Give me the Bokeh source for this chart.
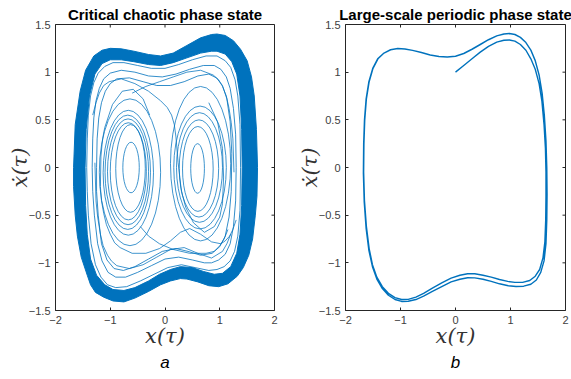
import math
from bokeh.plotting import figure
from bokeh.layouts import row
from bokeh.models import LinearAxis, FixedTicker, Range1d, Title
from bokeh.embed import file_html
from bokeh.resources import INLINE

# ---------------- data ----------------
titles = ["Critical chaotic phase state", "Large-scale periodic phase state"]
captions = ["a", "b"]
x_label = "x(τ)"
y_label = "ẋ(τ)"
x_ticks = [-2, -1, 0, 1, 2]
y_ticks = [-1.5, -1, -0.5, 0, 0.5, 1, 1.5]

# dense band of the chaotic attractor: outer and inner edge
band_outer_x = [-1.67, -1.64, -1.55, -1.45, -1.30, -1.15, -1.0, -0.8, -0.57, -0.3, -0.08, 0.15, 0.4, 0.65, 0.85, 0.95, 1.1, 1.25, 1.38, 1.50, 1.58, 1.63, 1.67, 1.69, 1.68, 1.65, 1.60, 1.53, 1.43, 1.32, 1.15, 0.98, 0.8, 0.6, 0.4, 0.28, 0.1, -0.08, -0.3, -0.55, -0.75, -0.95, -1.12, -1.27, -1.36, -1.42, -1.53, -1.60, -1.64, -1.67]
band_outer_y = [0.0, 0.45, 0.80, 1.02, 1.17, 1.23, 1.25, 1.245, 1.22, 1.185, 1.17, 1.2, 1.28, 1.36, 1.395, 1.40, 1.385, 1.33, 1.24, 1.12, 0.95, 0.75, 0.4, 0.0, -0.3, -0.5, -0.75, -0.92, -1.05, -1.14, -1.22, -1.25, -1.24, -1.20, -1.17, -1.165, -1.19, -1.23, -1.30, -1.37, -1.41, -1.40, -1.36, -1.31, -1.23, -1.13, -0.94, -0.72, -0.5, -0.2]
band_inner_x = [-1.46, -1.44, -1.38, -1.28, -1.15, -1.0, -0.8, -0.57, -0.3, -0.08, 0.15, 0.4, 0.65, 0.85, 0.95, 1.1, 1.22, 1.31, 1.37, 1.40, 1.41, 1.40, 1.37, 1.31, 1.2, 1.05, 0.9, 0.7, 0.5, 0.28, 0.1, -0.1, -0.3, -0.55, -0.75, -0.95, -1.1, -1.25, -1.36, -1.42, -1.45]
band_inner_y = [0.0, 0.4, 0.75, 0.98, 1.09, 1.13, 1.13, 1.11, 1.08, 1.07, 1.10, 1.15, 1.20, 1.22, 1.22, 1.19, 1.11, 0.98, 0.75, 0.4, 0.0, -0.4, -0.7, -0.9, -1.04, -1.11, -1.12, -1.09, -1.05, -1.04, -1.07, -1.12, -1.19, -1.26, -1.29, -1.28, -1.23, -1.13, -0.96, -0.7, -0.4]

# large thin loops just inside the band
big_loops_x = [
    [-1.43, -1.42, -1.40, -1.36, -1.30, -1.22, -1.1, -0.95, -0.75, -0.5, -0.25, 0.0, 0.25, 0.5, 0.75, 0.95, 1.1, 1.2, 1.28, 1.33, 1.37, 1.38, 1.37, 1.33, 1.27, 1.19, 1.08, 0.95, 0.8, 0.55, 0.3, 0.05, -0.2, -0.45, -0.7, -0.9, -1.05, -1.17, -1.27, -1.35, -1.40, -1.42],
    [-1.33, -1.32, -1.30, -1.26, -1.20, -1.12, -1.0, -0.8, -0.55, -0.3, -0.05, 0.2, 0.45, 0.7, 0.9, 1.02, 1.12, 1.19, 1.25, 1.29, 1.30, 1.29, 1.25, 1.19, 1.10, 0.98, 0.85, 0.72, 0.5, 0.25, 0.0, -0.25, -0.5, -0.72, -0.9, -1.04, -1.15, -1.23, -1.29, -1.32],
    [-1.25, -1.24, -1.21, -1.16, -1.09, -1.0, -0.88, -0.65, -0.4, -0.15, 0.1, 0.35, 0.6, 0.8, 0.94, 1.05, 1.13, 1.19, 1.22, 1.21, 1.17, 1.10, 1.0, 0.86, 0.65, 0.42, 0.2, -0.05, -0.3, -0.55, -0.76, -0.93, -1.06, -1.16, -1.22, -1.25],
]
big_loops_y = [
    [0.0, 0.3, 0.55, 0.75, 0.89, 0.99, 1.06, 1.1, 1.1, 1.07, 1.04, 1.04, 1.08, 1.13, 1.17, 1.17, 1.12, 1.05, 0.92, 0.75, 0.45, 0.0, -0.45, -0.72, -0.88, -0.98, -1.04, -1.07, -1.08, -1.05, -1.02, -1.05, -1.12, -1.19, -1.25, -1.26, -1.23, -1.15, -1.02, -0.8, -0.5, -0.25],
    [0.0, 0.3, 0.52, 0.7, 0.83, 0.93, 0.99, 1.02, 1.0, 0.96, 0.95, 0.98, 1.03, 1.07, 1.07, 1.03, 0.95, 0.83, 0.62, 0.35, 0.0, -0.35, -0.62, -0.8, -0.91, -0.97, -1.0, -1.0, -0.97, -0.94, -0.96, -1.03, -1.1, -1.15, -1.15, -1.1, -0.98, -0.8, -0.5, -0.25],
    [0.0, 0.3, 0.52, 0.68, 0.8, 0.88, 0.93, 0.94, 0.9, 0.86, 0.86, 0.9, 0.96, 0.98, 0.94, 0.86, 0.72, 0.48, 0.15, -0.25, -0.52, -0.72, -0.83, -0.9, -0.92, -0.88, -0.85, -0.88, -0.96, -1.04, -1.08, -1.06, -0.97, -0.8, -0.5, -0.25],
]

# loops around the two wells (centre, full width, full height)
well_x = [-0.62, -0.63, -0.67, -0.675, -0.68, -0.67, -0.64, 0.595, 0.60, 0.62, 0.63, 0.64, 0.65]
well_y = [0.0, -0.01, -0.04, -0.045, -0.05, -0.055, -0.05, -0.01, -0.015, -0.01, 0.0, 0.0, 0.04]
well_w = [0.30, 0.54, 0.66, 0.75, 0.83, 0.92, 1.12, 0.25, 0.56, 0.72, 0.84, 0.96, 1.10]
well_h = [0.53, 0.92, 1.02, 1.11, 1.20, 1.31, 1.54, 0.52, 0.89, 1.02, 1.15, 1.29, 1.62]

# open crossing paths between the wells
cross_x = [
    [-1.32, -1.26, -1.2, -1.12, -1.02, -0.8, -0.55, -0.3, -0.08, 0.04, 0.12, 0.17, 0.2, 0.24, 0.3, 0.38, 0.52, 0.72, 0.9, 1.0, 1.05, 1.07, 1.05, 0.96, 0.8],
    [1.3, 1.24, 1.18, 1.1, 1.02, 0.85, 0.65, 0.45, 0.28, 0.1, -0.1, -0.35, -0.6, -0.82, -0.92, -1.0, -1.07, -1.12, -1.16, -1.18, -1.17, -1.14, -1.1, -0.96, -0.78, -0.58, -0.4, -0.28],
    [1.2, 1.13, 1.05, 0.85, 0.6, 0.35, 0.1, -0.15, -0.4, -0.65, -0.88, -0.98, -1.05, -1.13, -1.18, -1.23, -1.26, -1.28],
    [-0.6, -0.35, -0.1, 0.15, 0.4, 0.65, 0.88, 0.98, 1.05, 1.12, 1.17, 1.21, 1.24, 1.26],
    [-0.45, -0.3, -0.1, 0.15, 0.45, 0.75, 0.9, 1.0, 1.08, 1.15],
]
cross_y = [
    [0.55, 0.68, 0.78, 0.86, 0.9, 0.93, 0.88, 0.8, 0.7, 0.63, 0.55, 0.45, 0.32, 0.05, -0.25, -0.42, -0.58, -0.68, -0.62, -0.52, -0.38, -0.1, 0.2, 0.48, 0.68],
    [-0.55, -0.65, -0.72, -0.77, -0.8, -0.78, -0.7, -0.64, -0.68, -0.77, -0.85, -0.9, -0.9, -0.84, -0.79, -0.7, -0.6, -0.48, -0.35, -0.2, 0.12, 0.3, 0.42, 0.66, 0.8, 0.82, 0.72, 0.55],
    [-0.7, -0.8, -0.88, -0.95, -0.9, -0.84, -0.86, -0.94, -1.02, -1.06, -1.03, -0.98, -0.92, -0.82, -0.7, -0.52, -0.35, 0.05],
    [0.78, 0.85, 0.9, 0.95, 1.0, 1.02, 0.97, 0.92, 0.85, 0.75, 0.62, 0.47, 0.3, -0.05],
    [-0.62, -0.72, -0.8, -0.86, -0.9, -0.9, -0.88, -0.82, -0.75, -0.65],
]

# periodic orbit (right panel)
orbit_x = [0.0, 0.15, 0.3, 0.45, 0.6, 0.75, 0.88, 0.98, 1.08, 1.18, 1.28, 1.37, 1.45, 1.52, 1.57, 1.61, 1.635, 1.645, 1.645, 1.64, 1.625, 1.59, 1.53, 1.45, 1.35, 1.22, 1.08, 0.95, 0.8, 0.65, 0.5, 0.35, 0.22, 0.08, -0.08, -0.25, -0.42, -0.58, -0.72, -0.86, -0.98, -1.1, -1.22, -1.33, -1.43, -1.51, -1.57, -1.62, -1.655, -1.67, -1.665, -1.65, -1.62, -1.57, -1.5, -1.41, -1.3, -1.18, -1.05, -0.92, -0.78, -0.62, -0.46, -0.3, -0.15, 0.0, 0.15, 0.3, 0.45, 0.6, 0.75, 0.88, 0.98, 1.08, 1.18, 1.28, 1.37, 1.45, 1.52, 1.575, 1.615, 1.645, 1.66, 1.665, 1.66, 1.645, 1.61, 1.55, 1.47, 1.37, 1.24, 1.1, 0.96, 0.8, 0.65, 0.5, 0.35, 0.22, 0.08, -0.08, -0.25, -0.42, -0.58, -0.72, -0.86, -0.98, -1.1, -1.22, -1.33, -1.43, -1.51, -1.575, -1.625, -1.66, -1.675, -1.67, -1.655, -1.625, -1.575, -1.505, -1.415, -1.3, -1.18, -1.05, -0.92, -0.78, -0.62, -0.46, -0.3, -0.15, 0.0, 0.15, 0.3, 0.45, 0.6, 0.75, 0.88, 0.98, 1.08, 1.18, 1.28, 1.37, 1.45, 1.52, 1.575]
orbit_y = [1.0, 1.07, 1.14, 1.21, 1.27, 1.315, 1.335, 1.338, 1.325, 1.29, 1.23, 1.14, 1.03, 0.88, 0.7, 0.45, 0.2, -0.05, -0.3, -0.55, -0.78, -0.95, -1.07, -1.14, -1.185, -1.205, -1.205, -1.195, -1.175, -1.15, -1.13, -1.115, -1.115, -1.13, -1.16, -1.21, -1.265, -1.32, -1.36, -1.383, -1.385, -1.365, -1.32, -1.25, -1.15, -1.02, -0.85, -0.62, -0.35, -0.05, 0.25, 0.5, 0.72, 0.9, 1.04, 1.14, 1.2, 1.235, 1.247, 1.243, 1.228, 1.205, 1.18, 1.163, 1.158, 1.167, 1.195, 1.24, 1.29, 1.34, 1.38, 1.4, 1.405, 1.395, 1.365, 1.31, 1.23, 1.12, 0.97, 0.78, 0.55, 0.28, 0.0, -0.28, -0.55, -0.8, -0.98, -1.1, -1.18, -1.225, -1.245, -1.248, -1.24, -1.22, -1.195, -1.172, -1.158, -1.157, -1.172, -1.2, -1.25, -1.3, -1.35, -1.385, -1.403, -1.405, -1.385, -1.34, -1.27, -1.17, -1.04, -0.87, -0.64, -0.36, -0.06, 0.25, 0.5, 0.72, 0.9, 1.04, 1.14, 1.2, 1.236, 1.248, 1.244, 1.229, 1.206, 1.181, 1.164, 1.159, 1.168, 1.196, 1.241, 1.291, 1.341, 1.381, 1.401, 1.406, 1.396, 1.366, 1.311, 1.231, 1.121, 0.971, 0.78]

# ---------------- styling ----------------
BLUE = "#0072BD"
AXIS = "#262626"
TICK_TXT = "#404040"
SANS = "Liberation Sans"
SERIF = "DejaVu Serif"


def closed(xs):
    return [list(v) + [v[0]] for v in xs]


def make_panel(title, caption, border_left, border_right, fw, title_offset):
    p = figure(frame_width=fw, frame_height=286,
               min_border_left=border_left, min_border_right=border_right,
               min_border_top=24, min_border_bottom=69,
               x_range=Range1d(-2, 2), y_range=Range1d(-1.5, 1.5),
               output_backend="svg", toolbar_location=None,
               x_axis_location=None, y_axis_location=None)
    p.grid.visible = False
    p.outline_line_color = AXIS
    p.outline_line_width = 1
    p.background_fill_color = "white"
    p.border_fill_color = "white"

    p.title.text = title
    p.title.align = "center"
    p.title.offset = title_offset
    p.title.text_font = SANS
    p.title.text_font_size = "15px"
    p.title.text_font_style = "bold"
    p.title.text_color = "black"
    p.title.standoff = 4

    for loc in ("below", "left"):
        ticks = x_ticks if loc == "below" else y_ticks
        ax = LinearAxis(ticker=FixedTicker(ticks=ticks))
        ax.axis_line_color = None
        ax.major_tick_line_color = AXIS
        ax.major_tick_in = 3
        ax.major_tick_out = 0
        ax.minor_tick_line_color = None
        ax.major_label_text_font = SANS
        ax.major_label_text_font_size = "11px"
        ax.major_label_text_color = TICK_TXT
        ax.major_label_standoff = 5
        ax.axis_label = x_label if loc == "below" else y_label
        ax.axis_label_text_font = SERIF
        ax.axis_label_text_font_size = "21px"
        ax.axis_label_text_font_style = "italic"
        ax.axis_label_text_color = "#333333"
        ax.axis_label_standoff = -3 if loc == "below" else -6
        p.add_layout(ax, loc)

    # inward ticks on the top and right edges, at the same tick values
    p.ray(x=x_ticks, y=[1.5] * len(x_ticks), length=3, length_units="screen",
          angle=-math.pi / 2, line_color=AXIS, line_width=1)
    p.ray(x=[2] * len(y_ticks), y=y_ticks, length=3, length_units="screen",
          angle=math.pi, line_color=AXIS, line_width=1)

    cap = Title(text=caption, align="center", text_font=SANS, text_font_size="17px",
                text_font_style="italic", text_color="black", standoff=0, offset=-6)
    p.add_layout(cap, "below")
    return p


p1 = make_panel(titles[0], captions[0], 55, 11, 219, 0)
p1.multi_polygons(xs=[[[band_outer_x, band_inner_x]]], ys=[[[band_outer_y, band_inner_y]]],
                  fill_color=BLUE, line_color=BLUE, line_width=1)
p1.multi_line(xs=closed(big_loops_x), ys=closed(big_loops_y), line_color=BLUE, line_alpha=0.8, line_width=1)
p1.ellipse(x=well_x, y=well_y, width=well_w, height=well_h, fill_color=None,
           line_color=BLUE, line_alpha=0.75, line_width=1)
p1.multi_line(xs=cross_x, ys=cross_y, line_color=BLUE, line_alpha=0.75, line_width=1)

p2 = make_panel(titles[1], captions[1], 60, 6, 220, -6)
p2.line(orbit_x, orbit_y, line_color=BLUE, line_width=1.4)

layout = row(p1, p2)
open("out.html", "w").write(file_html(layout, INLINE))
